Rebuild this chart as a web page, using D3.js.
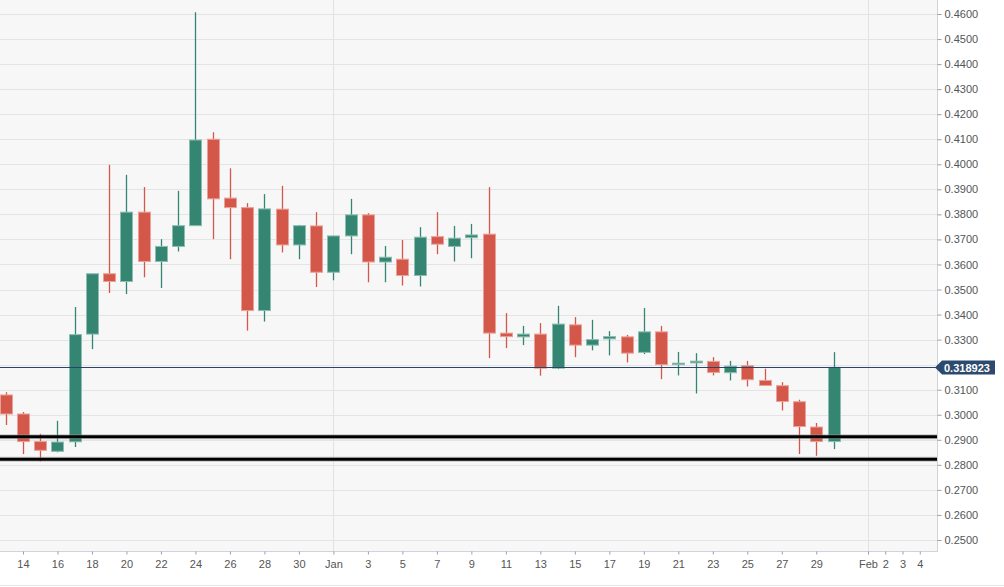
<!DOCTYPE html>
<html>
<head>
<meta charset="utf-8">
<script src="https://cdnjs.cloudflare.com/ajax/libs/d3/7.8.5/d3.min.js"></script>
<style>
  html, body { margin: 0; padding: 0; background: #ffffff; }
  svg { display: block; font-family: "Liberation Sans", Arial, sans-serif; }
</style>
</head>
<body>
<svg id="chart" width="1004" height="587"></svg>
<script>
// ---------- DATA ----------
const dates = [
  "2017-12-13","2017-12-14","2017-12-15","2017-12-16","2017-12-17","2017-12-18","2017-12-19",
  "2017-12-20","2017-12-21","2017-12-22","2017-12-23","2017-12-24","2017-12-25","2017-12-26",
  "2017-12-27","2017-12-28","2017-12-29","2017-12-30","2017-12-31","2018-01-01","2018-01-02",
  "2018-01-03","2018-01-04","2018-01-05","2018-01-06","2018-01-07","2018-01-08","2018-01-09",
  "2018-01-10","2018-01-11","2018-01-12","2018-01-13","2018-01-14","2018-01-15","2018-01-16",
  "2018-01-17","2018-01-18","2018-01-19","2018-01-20","2018-01-21","2018-01-22","2018-01-23",
  "2018-01-24","2018-01-25","2018-01-26","2018-01-27","2018-01-28","2018-01-29","2018-01-30"
];
const openVals = [
  0.3079,0.3003,0.2893,0.2854,0.2892,0.3322,0.3563,
  0.3532,0.3809,0.3612,0.3672,0.3755,0.4100,0.3865,
  0.3827,0.3416,0.3821,0.3678,0.3754,0.3569,0.3714,
  0.3798,0.3610,0.3621,0.3556,0.3711,0.3672,0.3707,
  0.3721,0.3326,0.3311,0.3322,0.3186,0.3359,0.3278,
  0.3303,0.3311,0.3249,0.3331,0.3201,0.3207,0.3213,
  0.3168,0.3196,0.3137,0.3116,0.3052,0.2951,0.2893
];
const highVals = [
  0.3090,0.3011,0.2924,0.2976,0.3430,0.3563,0.3998,
  0.3958,0.3909,0.3701,0.3894,0.4607,0.4128,0.3984,
  0.3845,0.3881,0.3914,0.3758,0.3809,0.3714,0.3862,
  0.3805,0.3674,0.3698,0.3749,0.3809,0.3754,0.3762,
  0.3909,0.3406,0.3355,0.3366,0.3435,0.3390,0.3379,
  0.3334,0.3319,0.3426,0.3355,0.3251,0.3246,0.3230,
  0.3215,0.3215,0.3184,0.3130,0.3060,0.2967,0.3250
];
const lowVals = [
  0.2959,0.2843,0.2814,0.2850,0.2871,0.3262,0.3486,
  0.3482,0.3549,0.3506,0.3652,0.3755,0.3701,0.3621,
  0.3336,0.3372,0.3648,0.3621,0.3510,0.3537,0.3641,
  0.3529,0.3529,0.3516,0.3512,0.3641,0.3612,0.3625,
  0.3226,0.3266,0.3278,0.3156,0.3182,0.3230,0.3257,
  0.3237,0.3209,0.3242,0.3142,0.3157,0.3085,0.3157,
  0.3137,0.3113,0.3115,0.3017,0.2843,0.2836,0.2863
];
const closeVals = [
  0.3003,0.2893,0.2858,0.2891,0.3320,0.3563,0.3532,
  0.3809,0.3612,0.3672,0.3755,0.4097,0.3862,0.3827,
  0.3416,0.3822,0.3678,0.3755,0.3569,0.3714,0.3798,
  0.3610,0.3629,0.3556,0.3709,0.3681,0.3705,0.3718,
  0.3326,0.3312,0.3322,0.3186,0.3362,0.3278,0.3300,
  0.3312,0.3246,0.3331,0.3200,0.3206,0.3214,0.3169,
  0.3194,0.3140,0.3117,0.3053,0.2953,0.2893,0.318923
];
const lastPrice = 0.318923;
const levelLines = [0.2912, 0.2822];
const yTickValues = d3.range(25, 47).map(d => d / 100);
const xTickDates = [
  "2017-12-14","2017-12-16","2017-12-18","2017-12-20","2017-12-22","2017-12-24","2017-12-26",
  "2017-12-28","2017-12-30","2018-01-01","2018-01-03","2018-01-05","2018-01-07","2018-01-09",
  "2018-01-11","2018-01-13","2018-01-15","2018-01-17","2018-01-19","2018-01-21","2018-01-23",
  "2018-01-25","2018-01-27","2018-01-29","2018-02-01","2018-02-02","2018-02-03","2018-02-04"
];
const xTickLabels = [
  "14","16","18","20","22","24","26","28","30","Jan","3","5","7","9",
  "11","13","15","17","19","21","23","25","27","29","Feb","2","3","4"
];
const monthLines = ["2018-01-01","2018-02-01"];

// ---------- LAYOUT ----------
const parse = d3.utcParse("%Y-%m-%d");
const plotW = 937, plotH = 551;
const svg = d3.select("#chart");

const x = d3.scaleUtc()
  .domain([new Date(Date.UTC(2017, 11, 12, 16)), new Date(Date.UTC(2018, 1, 5, 0))])
  .range([0, plotW]);
const y = d3.scaleLinear().domain([0.2456, 0.4656]).range([plotH, 0]);

const candles = dates.map((d, i) => ({
  date: parse(d), open: openVals[i], high: highVals[i], low: lowVals[i], close: closeVals[i]
}));

// plot background
svg.append("rect").attr("x", 0).attr("y", 0).attr("width", plotW).attr("height", plotH)
  .attr("fill", "#f7f7f7");

// horizontal grid
svg.append("g").selectAll("line").data(yTickValues).join("line")
  .attr("x1", 0).attr("x2", plotW)
  .attr("y1", d => Math.round(y(d)) + 0.5).attr("y2", d => Math.round(y(d)) + 0.5)
  .attr("stroke", "#e4e4e4").attr("stroke-width", 1);

// month vertical grid
svg.append("g").selectAll("line").data(monthLines).join("line")
  .attr("x1", d => Math.round(x(parse(d))) + 0.5).attr("x2", d => Math.round(x(parse(d))) + 0.5)
  .attr("y1", 0).attr("y2", plotH)
  .attr("stroke", "#e2e2e2").attr("stroke-width", 1);

// candles
const bodyW = 12;
const up = "#348672", down = "#d4584a";
const upEdge = "#8dbdb0", downEdge = "#eba199";
const cg = svg.append("g");
candles.forEach(c => {
  const cx = Math.round(x(c.date)) + 0.5;
  const isUp = c.close >= c.open;
  const col = isUp ? up : down;
  cg.append("line")
    .attr("x1", cx).attr("x2", cx)
    .attr("y1", y(c.high)).attr("y2", y(c.low))
    .attr("stroke", col).attr("stroke-width", 1.3);
  const top = y(Math.max(c.open, c.close));
  const bot = y(Math.min(c.open, c.close));
  cg.append("rect")
    .attr("x", cx - bodyW / 2).attr("y", top)
    .attr("width", bodyW).attr("height", Math.max(bot - top, 1.5))
    .attr("fill", col)
    .attr("stroke", isUp ? upEdge : downEdge).attr("stroke-width", 1);
});

// level lines
svg.append("g").selectAll("line").data(levelLines).join("line")
  .attr("x1", 0).attr("x2", plotW)
  .attr("y1", d => y(d)).attr("y2", d => y(d))
  .attr("stroke", "#9a9a9a").attr("stroke-width", 5).attr("stroke-opacity", 0.5);
svg.append("g").selectAll("line").data(levelLines).join("line")
  .attr("x1", 0).attr("x2", plotW)
  .attr("y1", d => y(d)).attr("y2", d => y(d))
  .attr("stroke", "#000").attr("stroke-width", 3);

// last price line
const py = Math.round(y(lastPrice)) + 0.5;
svg.append("line").attr("x1", 0).attr("x2", plotW).attr("y1", py).attr("y2", py)
  .attr("stroke", "#2c4468").attr("stroke-width", 1.2);

// axes lines
svg.append("line").attr("x1", plotW + 0.5).attr("x2", plotW + 0.5).attr("y1", 0).attr("y2", plotH)
  .attr("stroke", "#cfd3dc").attr("stroke-width", 1);
svg.append("line").attr("x1", 0).attr("x2", plotW + 1).attr("y1", plotH + 0.5).attr("y2", plotH + 0.5)
  .attr("stroke", "#cfd3dc").attr("stroke-width", 1);

// price tag geometry
const tagX = plotW - 2, tagH = 14, tagW = 60;

// y axis (labels hidden behind the price tag are not drawn, as in the reference)
const yAxis = d3.axisRight(y).tickValues(yTickValues).tickFormat(d3.format(".4f"))
  .tickSize(4).tickPadding(3);
const yg = svg.append("g").attr("transform", `translate(${plotW + 0.5},0)`).call(yAxis);
yg.select(".domain").remove();
yg.selectAll(".tick line").attr("stroke", "#9aa0aa");
yg.selectAll(".tick text").attr("fill", "#555").attr("font-size", 11)
  .attr("font-family", "Liberation Sans, Arial, sans-serif");
yg.selectAll(".tick").filter(d => Math.abs(y(d) - py) < tagH)
  .select("text").remove();

// x axis
const xAxis = d3.axisBottom(x).tickValues(xTickDates.map(parse))
  .tickFormat((d, i) => xTickLabels[i]).tickSize(3).tickPadding(6);
const xg = svg.append("g").attr("transform", `translate(0,${plotH + 0.5})`).call(xAxis);
xg.select(".domain").remove();
xg.selectAll(".tick line").attr("stroke", "#9aa0aa");
xg.selectAll(".tick text").attr("fill", "#555").attr("font-size", 11)
  .attr("font-family", "Liberation Sans, Arial, sans-serif");

// bottom border
svg.append("line").attr("x1", 0).attr("x2", 1004).attr("y1", 585.5).attr("y2", 585.5)
  .attr("stroke", "#e6e6e6");

// price tag
const tag = svg.append("g").attr("transform", `translate(${tagX},${py})`);
tag.append("path")
  .attr("d", `M0,0 L7,${-tagH / 2} L${tagW},${-tagH / 2} L${tagW},${tagH / 2} L7,${tagH / 2} Z`)
  .attr("fill", "#2c4a6e");
tag.append("text").attr("x", 9).attr("y", 4).text(lastPrice.toFixed(6))
  .attr("fill", "#fff").attr("font-size", 11).attr("font-weight", "bold")
  .attr("font-family", "Liberation Sans, Arial, sans-serif");
</script>
</body>
</html>
